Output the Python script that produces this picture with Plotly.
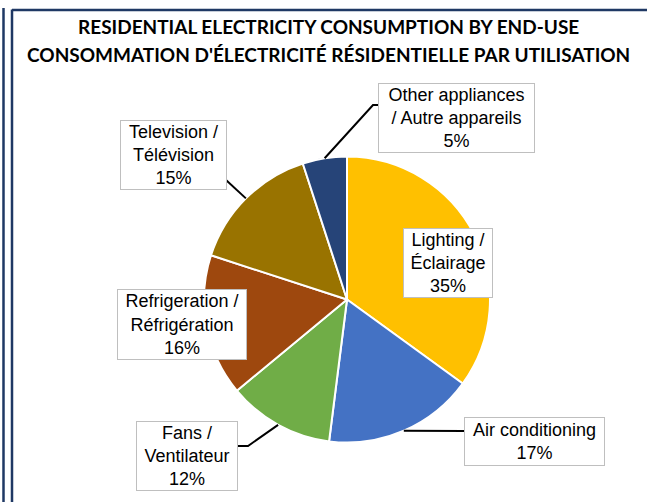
import math
import plotly.graph_objects as go

# ---- data ----
labels_en = ["Lighting", "Air conditioning", "Fans", "Refrigeration", "Television", "Other appliances"]
values = [35, 17, 12, 16, 15, 5]
colors = ["#FFC000", "#4472C4", "#70AD47", "#9E480E", "#997300", "#264478"]
label_texts = [
    "Lighting /<br>Éclairage",
    "Air conditioning",
    "Fans /<br>Ventilateur",
    "Refrigeration /<br>Réfrigération",
    "Television /<br>Télévision",
    "Other appliances<br>/ Autre appareils",
]
title_lines = [
    "RESIDENTIAL ELECTRICITY CONSUMPTION BY END-USE",
    "CONSOMMATION D'ÉLECTRICITÉ RÉSIDENTIELLE PAR UTILISATION",
]

# ---- layout constants (pixels) ----
W, H = 647, 502
CX, CY, R = 347, 299.5, 143
# label boxes: centre x, centre y, width, height
boxes = [
    (448, 263, 90, 70),
    (534.5, 441.5, 141, 49),
    (187, 456, 102, 70),
    (182, 324, 130, 71),
    (173.5, 155, 107, 70),
    (456.5, 118, 157, 70),
]
# label-side points of leader lines (None = no leader)
leader_ends = [
    None,
    [(464, 431)],
    [(248, 446), (238, 446)],
    None,
    [(226, 180)],
    [(373, 105), (379, 105)],
]


def px(x, y):
    return x / W, 1 - y / H


fig = go.Figure()
fig.add_trace(go.Pie(
    labels=labels_en,
    values=values,
    sort=False,
    direction="clockwise",
    rotation=0,
    marker=dict(colors=colors, line=dict(color="white", width=2)),
    textinfo="none",
    hoverinfo="label+percent",
    showlegend=False,
    domain=dict(x=[(CX - R) / W, (CX + R) / W], y=[1 - (CY + R) / H, 1 - (CY - R) / H]),
))

total = sum(values)
annotations = []
shapes = []
cum = 0
for i, v in enumerate(values):
    pct = round(v / total * 100)
    mid = (cum + v / 2) / total * 2 * math.pi
    cum += v
    bx, by, bw, bh = boxes[i]
    x, y = px(bx, by)
    annotations.append(dict(
        x=x, y=y, xref="paper", yref="paper", xanchor="center", yanchor="middle",
        text=f"{label_texts[i]}<br>{pct}%", showarrow=False,
        width=bw - 2, height=bh - 2, borderpad=0,
        bordercolor="#BFBFBF", borderwidth=1, bgcolor="white",
        font=dict(family="Liberation Sans, Arial, sans-serif", size=18, color="#000000"),
        align="center", valign="middle",
    ))
    if leader_ends[i]:
        sx = CX + R * math.sin(mid)
        sy = CY - R * math.cos(mid)
        pts = [px(sx, sy)] + [px(a, b) for a, b in leader_ends[i]]
        path = "M " + " L ".join(f"{a:.5f},{b:.5f}" for a, b in pts)
        shapes.append(dict(type="path", path=path, xref="paper", yref="paper",
                           line=dict(color="#000000", width=2)))

for j, (t, ty) in enumerate(zip(title_lines, [27, 54])):
    x, y = px(328, ty)
    annotations.append(dict(
        x=x, y=y, xref="paper", yref="paper", xanchor="center", yanchor="middle",
        text=f"<b>{t}</b>", showarrow=False,
        font=dict(family="Lato, Open Sans, sans-serif", size=19, color="#000000"),
    ))

# frame lines
navy = "#1F3864"
for (x0, y0, x1, y1) in [(3.5, 8, 3.5, 502), (12, 9.5, 12, 502), (12, 10, 647, 10)]:
    a0, b0 = px(x0, y0)
    a1, b1 = px(x1, y1)
    shapes.append(dict(type="line", x0=a0, y0=b0, x1=a1, y1=b1, xref="paper", yref="paper",
                       line=dict(color=navy, width=2.5)))

fig.update_layout(
    width=W, height=H,
    margin=dict(l=0, r=0, t=0, b=0),
    paper_bgcolor="white", plot_bgcolor="white",
    annotations=annotations, shapes=shapes,
)

fig.write_html("out.html", config={"displayModeBar": False},
               post_script="document.body.style.margin='0';document.body.style.overflow='hidden';")
